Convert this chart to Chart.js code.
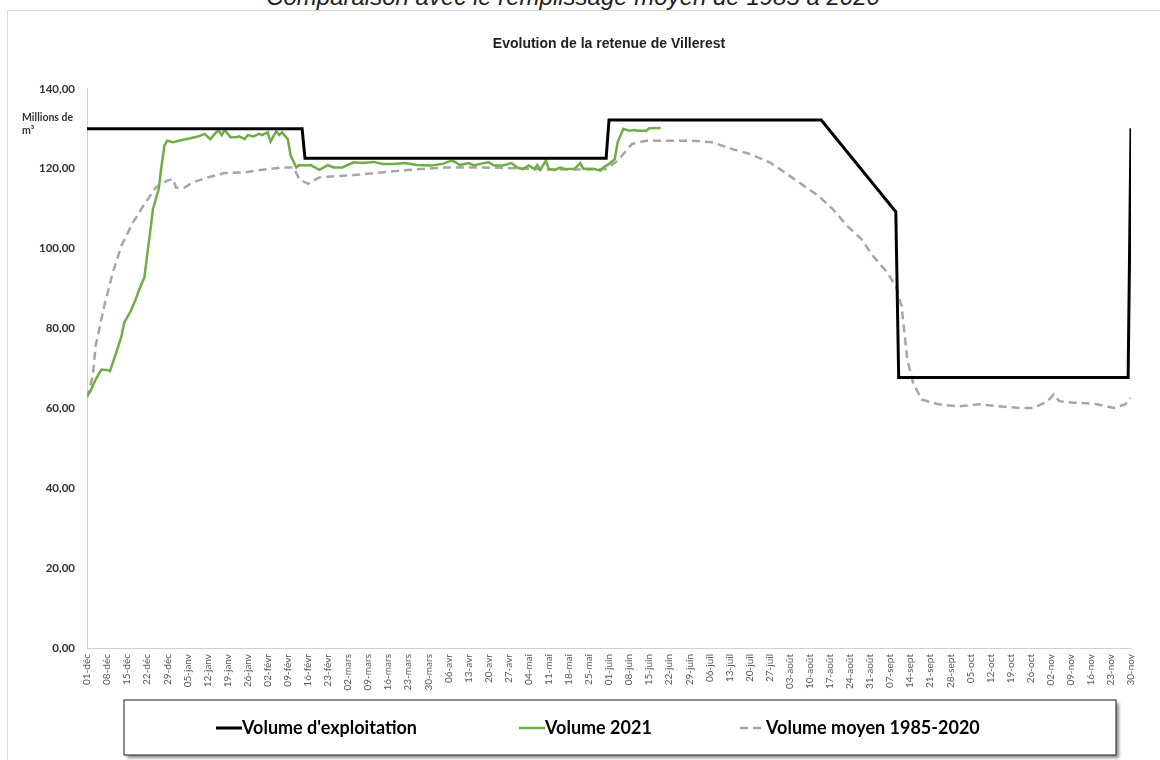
<!DOCTYPE html>
<html>
<head>
<meta charset="utf-8">
<script src="https://cdn.jsdelivr.net/npm/chart.js@4.4.1/dist/chart.umd.min.js"></script>
<style>
  body { margin: 0; width: 1160px; height: 760px; overflow: hidden; background: #fff; position: relative; }
  #frame { position: absolute; left: 7px; top: 10px; width: 1200px; height: 800px; border: 1px solid #d9d9d9; }
  #subtitle { position: absolute; left: 0; top: -15px; width: 1146px; text-align: center;
    font: italic 24px "Liberation Sans", Arial, sans-serif; line-height: 24px; color: #222; }
  canvas { position: absolute; left: 0; top: 0; }
</style>
</head>
<body>
<div id="frame"></div>
<div id="subtitle">Comparaison avec le remplissage moyen de 1985 à 2020</div>
<canvas id="chart" width="1160" height="760"></canvas>
<script>
// x = day number since 01-déc (0..364)
const tickLabels = ["01-déc", "08-déc", "15-déc", "22-déc", "29-déc", "05-janv", "12-janv", "19-janv", "26-janv",
    "02-févr", "09-févr", "16-févr", "23-févr", "02-mars", "09-mars", "16-mars", "23-mars", "30-mars",
    "06-avr", "13-avr", "20-avr", "27-avr", "04-mai", "11-mai", "18-mai", "25-mai",
    "01-juin", "08-juin", "15-juin", "22-juin", "29-juin", "06-juil", "13-juil", "20-juil", "27-juil",
    "03-août", "10-août", "17-août", "24-août", "31-août", "07-sept", "14-sept", "21-sept", "28-sept",
    "05-oct", "12-oct", "19-oct", "26-oct", "02-nov", "09-nov", "16-nov", "23-nov", "30-nov"];

const seriesNames = ["Volume d'exploitation", "Volume 2021", "Volume moyen 1985-2020"];

const exploitDays = [0, 75, 76, 181, 182, 256, 282, 283, 363, 364];
const exploitVol = [130, 130, 122.6, 122.6, 132.2, 132.2, 109.2, 67.7, 67.7, 130.1];

const vol2021Days = [0, 1, 3, 5, 7, 8, 10, 12, 13, 15, 17, 18, 20, 21, 22, 23, 25, 26, 27, 28,
    30, 32, 36, 39, 41, 43, 45, 46, 47, 48, 50, 52, 53, 55, 56, 58, 60, 61, 63, 64,
    66, 67, 68, 70, 71, 73, 74, 76, 78, 81, 84, 86, 89, 93, 96, 100, 103, 107, 111, 115,
    120, 124, 127, 128, 130, 133, 135, 137, 140, 142, 145, 148, 150, 152, 154, 156, 157, 158, 160, 161,
    163, 165, 167, 170, 172, 173, 175, 177, 179, 180, 182, 184, 185, 187, 189, 191, 192, 195, 196, 200];
const vol2021 = [63.2, 64, 67.2, 69.7, 69.6, 69.3, 73.5, 78, 81.5, 84, 87.3, 89.4, 92.8, 98.5, 104, 109.9, 114.9, 120.8, 125.8, 127,
    126.6, 127, 127.6, 128.1, 128.7, 127.4, 129.1, 129.4, 128.4, 129.7, 127.9, 127.9, 128.1, 127.4, 128.4, 128.1, 128.7, 128.4, 129.1, 126.8,
    129.4, 128.4, 129.1, 127.4, 123.3, 120.3, 120.9, 120.8, 120.9, 119.7, 120.9, 120.3, 120.3, 121.6, 121.4, 121.7, 121.2, 121.2, 121.4, 120.9,
    120.8, 121.2, 122, 121.8, 120.9, 121.4, 120.8, 121.2, 121.6, 120.8, 120.8, 121.4, 120.3, 119.9, 120.8, 119.9, 120.9, 119.7, 122, 119.9,
    119.7, 120.3, 119.9, 120, 121.4, 120, 120, 119.9, 119.5, 120.3, 121.2, 122.4, 126.6, 130, 129.5, 129.7, 129.5, 129.5, 130.1, 130.2];

const moyenDays = [0, 2, 3, 6, 9, 12, 16, 20, 24, 28, 30, 31, 34, 37, 42, 48, 55, 62, 68, 72,
    74, 77, 81, 86, 93, 100, 109, 114, 125, 137, 149, 160, 172, 181, 185, 188, 190, 195, 200, 206,
    211, 218, 225, 231, 238, 244, 250, 255, 260, 265, 270, 274, 279, 282, 284, 285, 286, 288, 291, 297,
    304, 311, 318, 325, 330, 335, 337, 339, 344, 351, 358, 362, 364];
const moyenVol = [62.6, 68, 75.6, 85.6, 94, 100.7, 106.5, 111.1, 115.3, 117, 117.4, 115.3, 115.3, 116.6, 117.8, 118.9, 119.1, 119.8, 120.3, 120.3,
    117.4, 116.2, 117.8, 118.1, 118.4, 118.9, 119.5, 119.8, 120.3, 120.3, 120.1, 119.8, 119.8, 119.9, 122, 124.5, 126.2, 127, 127, 127,
    127, 126.6, 124.9, 123.7, 121.6, 118.7, 115.7, 113.2, 109.9, 105.7, 102.4, 98.2, 94, 90.6, 85.6, 79, 72.3, 66.4, 62.2, 61,
    60.5, 61, 60.5, 60.1, 60.1, 61.8, 63.5, 61.8, 61.4, 61.2, 60.1, 61, 62.6];

function pts(days, vals) {
    return days.map((d, i) => ({ x: d, y: vals[i] }));
}

// legend box + y axis unit, drawn on top
const extras = {
    id: "extras",
    afterDraw(chart) {
        const ctx = chart.ctx;
        ctx.save();
        // unit label
        ctx.fillStyle = "#333";
        ctx.font = "bold 10.5px Lato";
        ctx.textAlign = "left";
        ctx.textBaseline = "middle";
        ctx.fillText("Millions de", 22, 118);
        ctx.fillText("m³", 22, 131);

        // legend box with shadow
        ctx.shadowColor = "rgba(0,0,0,0.45)";
        ctx.shadowOffsetX = 3;
        ctx.shadowOffsetY = 3;
        ctx.shadowBlur = 3;
        ctx.fillStyle = "#fff";
        ctx.fillRect(124, 700, 992, 55);
        ctx.shadowColor = "transparent";
        ctx.strokeStyle = "#404040";
        ctx.lineWidth = 1.2;
        ctx.strokeRect(124, 700, 992, 55);

        const itemX = [216, 519, 740];
        const ly = 728;
        chart.data.datasets.forEach((ds, i) => {
            ctx.beginPath();
            ctx.strokeStyle = ds.borderColor;
            ctx.lineWidth = ds.borderWidth;
            ctx.setLineDash(ds.borderDash || []);
            ctx.moveTo(itemX[i], ly);
            ctx.lineTo(itemX[i] + 26, ly);
            ctx.stroke();
            ctx.setLineDash([]);
            ctx.fillStyle = "#000";
            ctx.font = "bold 18px Lato";
            ctx.textBaseline = "middle";
            ctx.fillText(ds.label, itemX[i] + 26, ly);
        });
        ctx.restore();
    }
};

new Chart(document.getElementById("chart"), {
    type: "line",
    data: {
        datasets: [
            {
                label: seriesNames[0],
                data: pts(exploitDays, exploitVol),
                borderColor: "#000000",
                borderWidth: 3,
            },
            {
                label: seriesNames[1],
                data: pts(vol2021Days, vol2021),
                borderColor: "#70ad47",
                borderWidth: 2.5,
            },
            {
                label: seriesNames[2],
                data: pts(moyenDays, moyenVol),
                borderColor: "#a6a6a6",
                borderWidth: 2.5,
                borderDash: [8, 5],
            },
        ],
    },
    options: {
        responsive: false,
        animation: false,
        elements: { point: { radius: 0 }, line: { tension: 0 } },
        layout: { padding: { left: 10, right: 29, top: 0, bottom: 60 } },
        plugins: {
            legend: { display: false },
            tooltip: { enabled: false },
            title: {
                display: true,
                text: "Evolution de la retenue de Villerest",
                fullSize: false,
                color: "#222",
                font: { family: "Liberation Sans", weight: "bold", size: 14 },
                padding: { top: 36, bottom: 36 },
            },
        },
        scales: {
            x: {
                type: "linear",
                min: 0,
                max: 364,
                grid: { display: false, drawTicks: false },
                border: { display: true, color: "#d0d0d0" },
                ticks: {
                    stepSize: 7,
                    autoSkip: false,
                    minRotation: 90,
                    maxRotation: 90,
                    padding: 6,
                    color: "#595959",
                    font: { family: "Lato", size: 10 },
                    callback: (v) => tickLabels[Math.round(v / 7)],
                },
                afterFit: (s) => { s.height = 52; },
            },
            y: {
                min: 0,
                max: 140,
                grid: { display: false, drawTicks: false },
                border: { display: true, color: "#d0d0d0" },
                ticks: {
                    stepSize: 20,
                    padding: 12,
                    color: "#333",
                    font: { family: "Lato", weight: "bold", size: 11.5 },
                    callback: (v) => v.toFixed(2).replace(".", ","),
                },
                afterFit: (s) => { s.width = 77; },
            },
        },
    },
    plugins: [extras],
});
</script>
</body>
</html>
